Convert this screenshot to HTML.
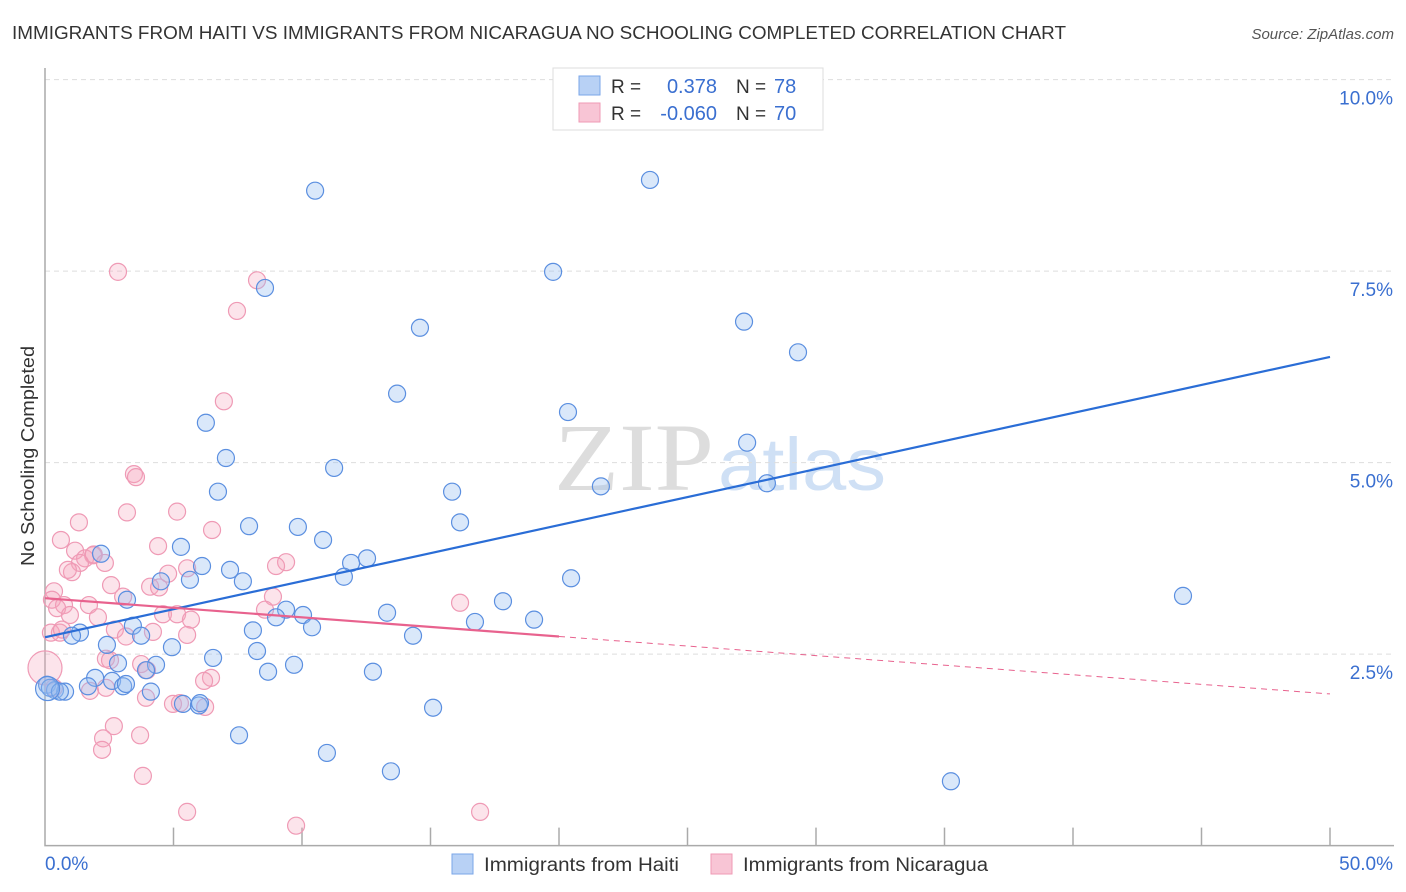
<!DOCTYPE html>
<html><head><meta charset="utf-8"><style>
body{margin:0;background:#fff;font-family:"Liberation Sans",sans-serif;}
#wrap{position:relative;width:1406px;height:892px;overflow:hidden;}
</style></head><body>
<div id="wrap">
<svg id="svg" width="1406" height="892">
<text x="12" y="39" font-size="18" fill="#333" textLength="1054" lengthAdjust="spacingAndGlyphs">IMMIGRANTS FROM HAITI VS IMMIGRANTS FROM NICARAGUA NO SCHOOLING COMPLETED CORRELATION CHART</text>
<text x="1394" y="39" font-size="15" fill="#555" font-style="italic" text-anchor="end">Source: ZipAtlas.com</text>
<text x="714" y="490" font-size="96" fill="#ddd" text-anchor="end" font-family="Liberation Serif" textLength="160" lengthAdjust="spacingAndGlyphs">ZIP</text>
<text x="718" y="490" font-size="74" fill="#cfe0f5" textLength="168" lengthAdjust="spacingAndGlyphs">atlas</text>
<text transform="translate(34,456) rotate(-90)" font-size="18" fill="#333" text-anchor="middle" textLength="220" lengthAdjust="spacingAndGlyphs">No Schooling Completed</text>
<g id="grid"></g><g id="pts"></g><g id="lines"></g>
<g>
<rect x="553" y="68" width="270" height="62" fill="#fff" stroke="#ddd"/>
<rect x="579" y="76" width="21" height="19" fill="#b8d1f5" stroke="#7aa6e8"/>
<rect x="579" y="103" width="21" height="19" fill="#f8c5d5" stroke="#ef9ab5"/>
<text x="611" y="93" font-size="19" fill="#333">R =</text>
<text x="717" y="93" font-size="20" fill="#3a6fd0" text-anchor="end">0.378</text>
<text x="736" y="93" font-size="19" fill="#333">N =</text>
<text x="774" y="93" font-size="20" fill="#3a6fd0">78</text>
<text x="611" y="120" font-size="19" fill="#333">R =</text>
<text x="717" y="120" font-size="20" fill="#3a6fd0" text-anchor="end">-0.060</text>
<text x="736" y="120" font-size="19" fill="#333">N =</text>
<text x="774" y="120" font-size="20" fill="#3a6fd0">70</text>
</g>
<g>
<rect x="452" y="854" width="21" height="20" fill="#b8d1f5" stroke="#7aa6e8"/>
<text x="484" y="871" font-size="19" fill="#333" textLength="195" lengthAdjust="spacingAndGlyphs">Immigrants from Haiti</text>
<rect x="711" y="854" width="21" height="20" fill="#f8c5d5" stroke="#ef9ab5"/>
<text x="743" y="871" font-size="19" fill="#333" textLength="245" lengthAdjust="spacingAndGlyphs">Immigrants from Nicaragua</text>
</g>
</svg>
</div>
<script>
const yTicks=[2.5,5.0,7.5,10.0];
const yTickLabels=["2.5%","5.0%","7.5%","10.0%"];
const xTicks=[5,10,15,20,25,30,35,40,45,50];
const haitiX=[10.51,23.54,19.77,8.56,14.59,27.20,29.30,13.70,20.35,6.26,27.32,7.04,11.25,21.63,28.09,15.84,6.73,16.15,7.94,9.84,10.82,5.29,2.18,12.53,11.91,6.11,7.20,11.63,20.47,5.64,7.70,4.51,44.28,3.19,17.82,9.38,13.31,10.04,8.99,19.03,16.73,10.39,8.09,3.42,1.36,3.74,14.32,4.94,2.41,8.25,6.54,2.84,9.69,4.32,3.93,8.68,12.76,1.95,2.61,0.08,1.67,3.04,0.39,0.78,4.12,5.37,5.99,15.10,7.55,10.97,13.46,35.25,0.19,1.05,3.15,0.58,6.03,0.10];
const haitiY=[8.55,8.69,7.49,7.28,6.76,6.84,6.44,5.90,5.66,5.52,5.26,5.06,4.93,4.69,4.73,4.62,4.62,4.22,4.17,4.16,3.99,3.90,3.81,3.75,3.69,3.65,3.60,3.51,3.49,3.47,3.45,3.45,3.26,3.21,3.19,3.08,3.04,3.01,2.98,2.95,2.92,2.85,2.81,2.87,2.78,2.74,2.74,2.59,2.62,2.54,2.45,2.38,2.36,2.36,2.29,2.27,2.27,2.19,2.15,2.10,2.08,2.08,2.03,2.01,2.01,1.85,1.83,1.80,1.44,1.21,0.97,0.84,2.06,2.74,2.11,2.01,1.86,2.05];
const nicX=[2.84,8.25,7.47,6.96,3.46,3.54,3.19,5.14,1.32,6.50,0.62,4.40,1.17,1.87,1.56,2.33,1.36,1.05,0.89,5.53,9.38,8.99,4.79,4.09,4.44,2.57,0.35,0.27,3.04,8.87,16.15,0.74,1.71,0.47,4.59,5.14,8.56,5.68,2.06,0.97,4.20,2.72,3.15,5.53,0.23,0.58,2.37,3.74,3.97,0.35,1.75,2.37,3.93,4.98,5.25,6.23,6.46,6.19,2.68,2.26,2.22,3.70,3.81,5.53,9.77,16.93,0.66,2.53,0.0,1.9];
const nicY=[7.49,7.38,6.98,5.80,4.85,4.81,4.35,4.36,4.22,4.12,3.99,3.91,3.85,3.79,3.75,3.69,3.69,3.57,3.60,3.62,3.70,3.65,3.55,3.38,3.37,3.40,3.32,3.21,3.25,3.25,3.17,3.14,3.14,3.10,3.02,3.02,3.08,2.95,2.98,3.01,2.79,2.82,2.73,2.75,2.78,2.78,2.44,2.37,2.29,2.06,2.02,2.06,1.93,1.85,1.86,1.81,2.19,2.15,1.56,1.40,1.25,1.44,0.91,0.44,0.26,0.44,2.82,2.42,2.32,3.80];
const haitiTrend=[2.72,6.38];
const nicTrend=[3.23,1.98];
const nicSolidEnd=20;
const X0=45,X1=1330,Y0=845.6,YPX=76.6;
const sx=v=>X0+v/50*(X1-X0), sy=v=>Y0-v*YPX;
const NS="http://www.w3.org/2000/svg";
function mk(t,a,p){const e=document.createElementNS(NS,t);for(const k in a)e.setAttribute(k,a[k]);p.appendChild(e);return e;}
const grid=document.getElementById('grid');
yTicks.forEach((t,i)=>{
 const l=mk('line',{x1:X0,x2:1394,y1:sy(t),y2:sy(t),stroke:'#ddd','stroke-dasharray':'5,4'},grid);
 
 
 const tx=mk('text',{x:1393,y:sy(t)+25,'font-size':19,fill:'#3a6fd0','text-anchor':'end'},grid);
 tx.textContent=yTickLabels[i];
 
 
});
const ax=mk('path',{d:`M${X0},68V${Y0}H1394`,stroke:'#aaa',fill:'none','stroke-width':1.5},grid);


xTicks.forEach(t=>{
 const l=mk('line',{x1:sx(t),x2:sx(t),y1:Y0,y2:Y0-18,stroke:'#aaa','stroke-width':1.5},grid);
 
 
});
[[0,'0.0%','start',45],[50,'50.0%','end',1393]].forEach(a=>{
 const tx=mk('text',{x:a[3],y:870,'font-size':19,fill:'#3a6fd0','text-anchor':a[2]},grid);
 tx.textContent=a[1];
 
 
});
const pts=document.getElementById('pts');
nicX.forEach((x,i)=>{
 const c=mk('circle',{cx:sx(x),cy:sy(nicY[i]),r:i==68?17:8.5,fill:'rgba(245,165,190,0.3)',stroke:'#ef9ab5','stroke-width':1.2},pts);
 
 
});
haitiX.forEach((x,i)=>{
 const c=mk('circle',{cx:sx(x),cy:sy(haitiY[i]),r:i==77?12:8.5,fill:'rgba(150,188,240,0.35)',stroke:'#5b8fe0','stroke-width':1.2},pts);
 
 
});
const lines=document.getElementById('lines');
const bl=mk('line',{x1:sx(0),y1:sy(haitiTrend[0]),x2:sx(50),y2:sy(haitiTrend[1]),stroke:'#2a6dd6','stroke-width':2.2},lines);


const ny=x=>nicTrend[0]+(nicTrend[1]-nicTrend[0])*x/50;
const pl=mk('line',{x1:sx(0),y1:sy(ny(0)),x2:sx(nicSolidEnd),y2:sy(ny(nicSolidEnd)),stroke:'#e8628e','stroke-width':2.2},lines);


const pd=mk('line',{x1:sx(nicSolidEnd),y1:sy(ny(nicSolidEnd)),x2:sx(50),y2:sy(ny(50)),stroke:'#e8628e','stroke-width':1,'stroke-dasharray':'6,5'},lines);


</script>
</body></html>
